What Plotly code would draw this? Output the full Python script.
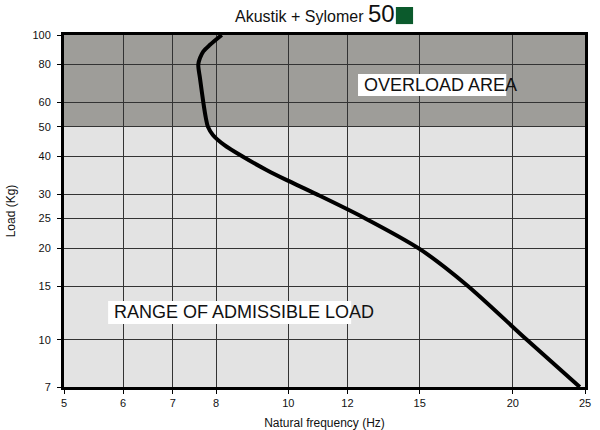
import math
import plotly.graph_objs as go

# curve: natural frequency (Hz) vs load (Kg)
freq = [8.14, 7.85, 7.69, 7.61, 7.57, 7.61, 7.69, 7.75, 7.80, 7.92, 8.20, 8.67,
        9.36, 9.95, 10.92, 12.61, 15.03, 17.36, 20.89, 24.6]
load = [100, 92.9, 88.4, 84, 80, 72.2, 60, 53.4, 50, 47, 43.6, 40,
        36, 33.4, 30, 25.2, 19.8, 15.1, 10, 7]

x_ticks = [5, 6, 7, 8, 10, 12, 15, 20, 25]
y_ticks = [7, 10, 15, 20, 25, 30, 40, 50, 60, 80, 100]

overload_min = 50
overload_max = 100

font = 'Liberation Sans, Arial, sans-serif'

fig = go.Figure()

fig.add_trace(go.Scatter(
    x=freq,
    y=load,
    mode='lines',
    line=dict(color='black', width=4, shape='spline', smoothing=0.85),
    showlegend=False
))

# grey overload band
fig.add_shape(type='rect', xref='paper', yref='y', x0=0, x1=1,
              y0=overload_min, y1=overload_max,
              fillcolor='#9e9d99', line_width=0, layer='below')

# white boxes behind the two labels
fig.add_shape(type='rect', xref='x', yref='y', x0=12.4, x1=19.6, y0=63.1, y1=74.5,
              fillcolor='white', line_width=0, layer='between')
fig.add_shape(type='rect', xref='x', yref='y', x0=5.73, x1=12.14, y0=11.27, y1=13.4,
              fillcolor='white', line_width=0, layer='between')

# annotations on log axes take log10 positions
fig.add_annotation(x=math.log10(16.01), y=math.log10(68.5), xref='x', yref='y',
                   text='OVERLOAD AREA', showarrow=False,
                   font=dict(size=18, color='#111', family=font))
fig.add_annotation(x=math.log10(8.71), y=math.log10(12.29), xref='x', yref='y',
                   text='RANGE OF ADMISSIBLE LOAD', showarrow=False,
                   font=dict(size=18, color='#111', family=font))

# green square next to the title
fig.add_shape(type='rect', xref='paper', yref='paper', x0=0.637, x1=0.670,
              y0=1.031, y1=1.0795, fillcolor='#0b5a2c', line_width=0)

fig.update_xaxes(
    type='log', range=[0.69897, 1.39794],
    tickvals=x_ticks, ticktext=[str(v) for v in x_ticks],
    showgrid=True, gridcolor='#333', gridwidth=1,
    showline=True, linecolor='black', linewidth=3, mirror=True,
    ticks='outside', ticklen=4, tickcolor='black',
    tickfont=dict(size=11, color='#111', family=font),
    title=dict(text='Natural frequency (Hz)', font=dict(size=12, color='#111', family=font)),
    zeroline=False, automargin=False
)
fig.update_yaxes(
    type='log', range=[0.845098, 2],
    tickvals=y_ticks, ticktext=[str(v) for v in y_ticks],
    showgrid=True, gridcolor='#333', gridwidth=1,
    showline=True, linecolor='black', linewidth=3, mirror=True,
    ticks='outside', ticklen=4, tickcolor='black', ticklabelstandoff=4,
    tickfont=dict(size=11, color='#111', family=font),
    title=dict(text='Load (Kg)', font=dict(size=12, color='#111', family=font)),
    zeroline=False, automargin=False
)

fig.update_layout(
    width=600, height=430,
    margin=dict(l=64, r=15, t=35, b=43),
    plot_bgcolor='#e3e3e3',
    paper_bgcolor='white',
    showlegend=False,
    title=dict(
        text="Akustik + Sylomer <span style='font-size:24px'>50</span>",
        x=235 / 600, xanchor='left', xref='container',
        y=1 - 16 / 430, yanchor='middle', yref='container',
        font=dict(size=16, color='#111', family=font)
    )
)

fig.write_html("out.html", config={'displayModeBar': False},
               post_script="document.body.style.margin='0px';")
